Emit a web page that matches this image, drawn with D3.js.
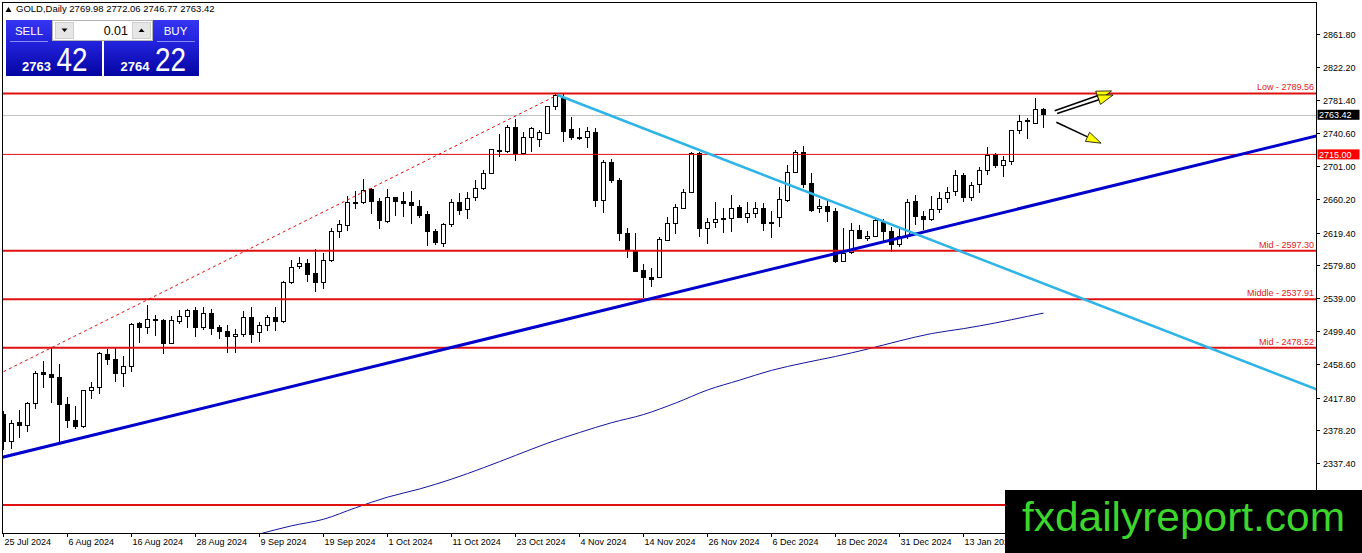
<!DOCTYPE html>
<html>
<head>
<meta charset="utf-8">
<script src="https://cdn.jsdelivr.net/npm/d3@7"></script>
<style>
html, body { margin: 0; padding: 0; background: #fff; }
svg { display: block; font-family: "Liberation Sans", Arial, sans-serif; }
</style>
</head>
<body>
<svg id="chart" width="1362" height="553"></svg>
<script>
// trading days shown on the chart
const dates = [
  "2024-07-25","2024-07-26","2024-07-29","2024-07-30","2024-07-31",
  "2024-08-01","2024-08-02","2024-08-05","2024-08-06","2024-08-07","2024-08-08","2024-08-09",
  "2024-08-12","2024-08-13","2024-08-14","2024-08-15","2024-08-16","2024-08-19","2024-08-20",
  "2024-08-21","2024-08-22","2024-08-23","2024-08-26","2024-08-27","2024-08-28","2024-08-29","2024-08-30",
  "2024-09-02","2024-09-03","2024-09-04","2024-09-05","2024-09-06","2024-09-09","2024-09-10",
  "2024-09-11","2024-09-12","2024-09-13","2024-09-16","2024-09-17","2024-09-18","2024-09-19",
  "2024-09-20","2024-09-23","2024-09-24","2024-09-25","2024-09-26","2024-09-27","2024-09-30",
  "2024-10-01","2024-10-02","2024-10-03","2024-10-04","2024-10-07","2024-10-08","2024-10-09",
  "2024-10-10","2024-10-11","2024-10-14","2024-10-15","2024-10-16","2024-10-17","2024-10-18",
  "2024-10-21","2024-10-22","2024-10-23","2024-10-24","2024-10-25","2024-10-28","2024-10-29",
  "2024-10-30","2024-10-31",
  "2024-11-01","2024-11-04","2024-11-05","2024-11-06","2024-11-07","2024-11-08","2024-11-11",
  "2024-11-12","2024-11-13","2024-11-14","2024-11-15","2024-11-18","2024-11-19","2024-11-20",
  "2024-11-21","2024-11-22","2024-11-25","2024-11-26","2024-11-27","2024-11-28","2024-11-29",
  "2024-12-02","2024-12-03","2024-12-04","2024-12-05","2024-12-06","2024-12-09","2024-12-10",
  "2024-12-11","2024-12-12","2024-12-13","2024-12-16","2024-12-17","2024-12-18","2024-12-19",
  "2024-12-20","2024-12-23","2024-12-24","2024-12-26","2024-12-27","2024-12-30","2024-12-31",
  "2025-01-02","2025-01-03","2025-01-06","2025-01-07","2025-01-08","2025-01-09","2025-01-10",
  "2025-01-13","2025-01-14","2025-01-15","2025-01-16","2025-01-17","2025-01-20","2025-01-21",
  "2025-01-22","2025-01-23","2025-01-24","2025-01-27"
];

const opens = [
  2397.3,2363.9,2387.5,2383.0,2410.7,2448.2,2446.1,2442.5,2409.5,2390.3,
  2382.2,2426.6,2429.8,2471.0,2464.5,2447.4,2455.5,2508.5,2503.6,2513.4,
  2512.1,2483.6,2510.5,2516.6,2524.4,2503.2,2520.7,2502.8,2498.7,2492.6,
  2495.0,2516.2,2497.5,2506.0,2515.9,2510.5,2558.2,2577.7,2581.8,2569.6,
  2558.6,2585.1,2621.3,2627.9,2656.0,2656.4,2671.5,2658.0,2632.8,2662.5,
  2658.0,2655.6,2651.9,2641.7,2621.3,2605.9,2629.5,2656.4,2647.8,2662.1,
  2672.7,2691.8,2718.3,2718.3,2747.6,2715.5,2735.8,2733.4,2740.7,2773.3,
  2783.5,2746.0,2735.8,2735.4,2741.5,2658.4,2705.3,2683.3,2618.5,2596.1,
  2572.5,2564.7,2564.3,2610.3,2630.7,2649.1,2668.2,2715.5,2624.6,2631.9,
  2636.8,2636.8,2650.3,2638.1,2642.9,2649.1,2632.3,2637.6,2659.2,2692.6,
  2717.1,2679.6,2649.1,2651.9,2645.0,2583.9,2594.9,2621.8,2612.4,2615.2,
  2631.5,2620.5,2605.0,2614.4,2657.2,2638.9,2635.6,2647.8,2661.3,2669.4,
  2689.8,2662.5,2677.6,2695.5,2715.1,2701.6,2706.5,2744.0,2755.0,2752.9,
  2769.98
];
const highs = [
  2401.7,2390.3,2402.6,2412.7,2450.2,2462.4,2478.7,2458.4,2418.0,2407.4,
  2427.0,2436.8,2473.4,2477.1,2477.9,2469.0,2508.5,2510.1,2530.5,2518.7,
  2513.4,2517.4,2524.8,2525.6,2528.4,2528.4,2525.6,2506.4,2506.4,2501.1,
  2524.0,2528.9,2510.5,2519.1,2528.1,2560.3,2585.9,2589.2,2587.1,2599.3,
  2594.0,2624.6,2634.8,2664.1,2670.2,2684.5,2673.5,2662.1,2672.3,2662.9,
  2669.4,2670.2,2659.2,2645.8,2623.8,2631.1,2660.1,2667.4,2668.6,2684.1,
  2695.9,2721.2,2739.5,2750.9,2757.8,2742.8,2748.5,2744.8,2774.1,2788.4,
  2788.4,2761.1,2747.6,2748.9,2747.6,2708.1,2708.9,2685.7,2624.6,2618.5,
  2580.6,2575.7,2614.4,2638.0,2653.9,2672.3,2718.3,2718.3,2637.6,2657.2,
  2649.1,2665.3,2653.1,2656.4,2656.4,2656.0,2645.8,2675.5,2702.0,2720.4,
  2725.2,2691.8,2660.1,2658.0,2649.9,2625.4,2631.5,2628.7,2621.3,2637.6,
  2636.0,2626.6,2624.6,2660.1,2665.3,2645.8,2664.1,2668.6,2675.5,2695.9,
  2692.6,2681.6,2700.0,2724.4,2716.3,2713.4,2744.8,2763.1,2759.1,2784.3,
  2772.06
];
const lows = [
  2353.7,2354.5,2368.7,2376.1,2403.4,2429.8,2410.7,2363.9,2381.0,2378.9,
  2380.1,2415.6,2422.1,2457.6,2437.2,2431.1,2449.4,2484.9,2495.4,2493.4,
  2470.6,2483.2,2507.7,2502.4,2492.2,2500.3,2493.8,2488.9,2472.6,2471.8,
  2492.2,2484.0,2485.3,2499.5,2499.5,2508.9,2556.2,2574.5,2559.4,2546.4,
  2550.0,2583.9,2613.2,2621.8,2648.2,2653.9,2641.7,2623.4,2631.5,2640.1,
  2638.9,2630.3,2636.8,2603.4,2604.2,2602.2,2626.6,2640.9,2636.0,2658.0,
  2671.1,2691.0,2712.2,2717.1,2706.9,2715.1,2718.0,2723.6,2739.9,2769.2,
  2730.5,2732.6,2732.6,2723.2,2651.1,2642.9,2679.6,2609.1,2588.8,2570.8,
  2539.0,2553.3,2563.5,2609.5,2617.7,2647.8,2667.4,2614.4,2605.0,2625.4,
  2619.3,2620.5,2637.6,2631.5,2636.8,2621.3,2612.4,2626.6,2656.4,2691.8,
  2674.3,2645.0,2642.9,2631.9,2582.6,2583.0,2592.8,2611.2,2609.5,2614.0,
  2609.5,2595.3,2601.4,2611.6,2628.7,2622.6,2633.6,2643.8,2655.2,2663.7,
  2656.4,2658.0,2668.2,2689.8,2697.9,2687.8,2702.0,2739.9,2733.8,2751.7,
  2746.77
];
const closes = [
  2363.9,2386.3,2383.0,2410.7,2447.4,2446.1,2442.5,2409.5,2389.5,2382.2,
  2426.6,2430.3,2471.8,2464.5,2447.4,2455.9,2507.3,2503.2,2513.4,2512.1,
  2483.6,2512.1,2516.6,2524.4,2503.2,2520.7,2502.0,2498.7,2492.2,2495.0,
  2515.8,2495.4,2506.0,2516.2,2510.5,2558.7,2576.9,2581.8,2568.4,2558.6,
  2585.9,2621.3,2628.7,2656.4,2656.8,2671.1,2657.2,2634.0,2662.5,2657.2,
  2654.8,2652.3,2640.9,2620.5,2607.5,2629.9,2656.4,2647.0,2661.3,2673.5,
  2691.8,2721.2,2719.9,2747.6,2715.5,2735.8,2746.8,2741.5,2773.3,2786.4,
  2742.8,2735.4,2734.6,2742.8,2658.4,2704.9,2682.5,2618.1,2598.1,2571.6,
  2564.3,2562.3,2611.2,2630.7,2650.3,2668.6,2715.5,2624.6,2631.5,2635.6,
  2635.6,2649.1,2638.1,2642.9,2649.1,2630.7,2631.1,2660.1,2693.1,2717.1,
  2678.8,2646.2,2651.1,2645.0,2583.9,2594.0,2621.8,2612.4,2614.8,2633.6,
  2620.5,2605.0,2614.4,2656.4,2638.9,2635.6,2647.8,2661.3,2668.6,2689.8,
  2662.9,2676.8,2695.5,2714.2,2701.6,2707.3,2744.0,2755.0,2756.2,2770.1,
  2763.42
];

// 200 day moving average, read every few bars
const maIdx = [32, 36, 40, 44, 48, 52, 56, 60, 64, 68, 72, 76, 80, 84, 88, 92, 96, 100, 104, 108, 112, 116, 120, 124, 128, 130];
const maVal = [2251, 2261, 2269, 2283, 2296, 2306, 2318, 2332, 2347, 2362, 2375, 2387, 2397, 2411, 2427, 2439, 2451, 2460, 2468, 2477, 2487, 2496, 2502, 2509, 2517, 2521];

// horizontal levels
const levelPrices = [2789.56, 2715.00, 2597.30, 2537.91, 2478.52, 2286.50];
const levelNames = ["Low - 2789.56", "", "Mid - 2597.30", "Middle - 2537.91", "Mid - 2478.52", ""];

const priceTicks = [2861.80, 2822.20, 2781.40, 2740.60, 2701.00, 2660.20, 2619.40, 2579.80, 2539.00, 2499.40, 2458.60, 2417.80, 2378.20, 2337.40];

// bars that carry a date label (the later ones sit under the watermark)
const labelIdx = [0, 8, 16, 24, 32, 40, 48, 56, 64, 72, 80, 88, 96, 104, 112, 120];

// trend lines as [bar index, price] anchors
const upTrend = [[0, 2345.1], [164.1, 2737.5]];
const downTrend = [[69.25, 2787.6], [164.1, 2427.9]];
const dottedTrend = [[0, 2449.4], [69.25, 2787.6]];

// arrows drawn on the chart: [from index, from price, to index, to price]
const arrows = [
  [131.4, 2768.3, 138.5, 2792.6],
  [131.7, 2765.1, 138.7, 2787.6],
  [131.6, 2754.2, 137.2, 2728.7]
];

const bid = 2763.42, ask = 2764.22;

const svg = d3.select("#chart");
const plot = { left: 2, top: 2, right: 1316, bottom: 533 };

const x = d3.scaleLinear().domain([0, 130]).range([3.5, 1043.5]);
const y = d3.scaleLinear().domain([2337.4, 2861.8]).range([463.3, 34.3]);

svg.append("rect").attr("width", 1362).attr("height", 553).attr("fill", "#fff");

svg.append("defs").append("clipPath").attr("id", "clip")
  .append("rect")
  .attr("x", plot.left).attr("y", plot.top)
  .attr("width", plot.right - plot.left).attr("height", plot.bottom - plot.top);

const g = svg.append("g").attr("clip-path", "url(#clip)");

// bid line
g.append("line")
  .attr("x1", plot.left).attr("x2", plot.right)
  .attr("y1", Math.round(y(bid)) + 0.5).attr("y2", Math.round(y(bid)) + 0.5)
  .attr("stroke", "#c0c0c0").attr("stroke-width", 1);

// candles
const candles = d3.range(dates.length).map(i => ({
  i, o: opens[i], h: highs[i], l: lows[i], c: closes[i]
}));

const cg = g.append("g").attr("shape-rendering", "crispEdges");
cg.selectAll("line.wick")
  .data(candles)
  .enter().append("line")
  .attr("class", "wick")
  .attr("x1", d => x(d.i)).attr("x2", d => x(d.i))
  .attr("y1", d => y(d.h)).attr("y2", d => y(d.l))
  .attr("stroke", "#000").attr("stroke-width", 1);

cg.selectAll("rect.body")
  .data(candles)
  .enter().append("rect")
  .attr("class", "body")
  .attr("x", d => x(d.i) - 2)
  .attr("y", d => y(Math.max(d.o, d.c)))
  .attr("width", 4)
  .attr("height", d => Math.max(1, Math.abs(y(d.o) - y(d.c))))
  .attr("fill", d => d.c >= d.o ? "#fff" : "#000")
  .attr("stroke", "#000").attr("stroke-width", 1);

// moving average
g.append("path")
  .datum(maIdx.map((d, k) => [d, maVal[k]]))
  .attr("fill", "none")
  .attr("stroke", "#14149c").attr("stroke-width", 1)
  .attr("d", d3.line().curve(d3.curveMonotoneX).x(d => x(d[0])).y(d => y(d[1])));

// horizontal levels
levelPrices.forEach((p, k) => {
  const yy = y(p);
  g.append("line")
    .attr("x1", plot.left).attr("x2", plot.right)
    .attr("y1", yy).attr("y2", yy)
    .attr("stroke", "#e01010").attr("stroke-width", k === 1 ? 1 : 2);
  if (levelNames[k]) {
    g.append("text")
      .attr("x", 1314).attr("y", yy - 3)
      .attr("text-anchor", "end")
      .attr("font-size", 9).attr("fill", "#e02020")
      .text(levelNames[k]);
  }
});

// trend lines, extended across the plot
function extend(a, i0, i1) {
  const slope = (a[1][1] - a[0][1]) / (a[1][0] - a[0][0]);
  return [[i0, a[0][1] + (i0 - a[0][0]) * slope], [i1, a[0][1] + (i1 - a[0][0]) * slope]];
}
const tl = d3.line().x(d => x(d[0])).y(d => y(d[1]));

g.append("path")
  .datum(extend(dottedTrend, -2, dottedTrend[1][0]))
  .attr("fill", "none").attr("stroke", "#e01010").attr("stroke-width", 1)
  .attr("stroke-dasharray", "3,3")
  .attr("d", tl);

g.append("path")
  .datum(extend(upTrend, -2, 170))
  .attr("fill", "none").attr("stroke", "#0000cc").attr("stroke-width", 3)
  .attr("d", tl);

g.append("path")
  .datum(extend(downTrend, downTrend[0][0], 170))
  .attr("fill", "none").attr("stroke", "#2eb4e6").attr("stroke-width", 2.5)
  .attr("d", tl);

// arrows
arrows.forEach(a => {
  const x0 = x(a[0]), y0 = y(a[1]), x1 = x(a[2]), y1 = y(a[3]);
  const ang = Math.atan2(y1 - y0, x1 - x0);
  const len = 15, hw = 5;
  const bx = x1 - len * Math.cos(ang), by = y1 - len * Math.sin(ang);
  g.append("line")
    .attr("x1", x0).attr("y1", y0).attr("x2", bx).attr("y2", by)
    .attr("stroke", "#000").attr("stroke-width", 1.6);
  const px = -Math.sin(ang) * hw, py = Math.cos(ang) * hw;
  g.append("path")
    .attr("d", `M${x1},${y1}L${bx + px},${by + py}L${bx - px},${by - py}Z`)
    .attr("fill", "#ffff00").attr("stroke", "#000").attr("stroke-width", 0.8);
});

// frame
svg.append("rect")
  .attr("x", plot.left + 0.5).attr("y", plot.top + 0.5)
  .attr("width", plot.right - plot.left).attr("height", plot.bottom - plot.top)
  .attr("fill", "none").attr("stroke", "#000").attr("stroke-width", 1);

// price axis
const axg = svg.append("g").attr("font-size", 9);
priceTicks.forEach(p => {
  const yy = Math.round(y(p)) + 0.5;
  axg.append("line")
    .attr("x1", plot.right).attr("x2", plot.right + 4)
    .attr("y1", yy).attr("y2", yy)
    .attr("stroke", "#000");
  axg.append("text")
    .attr("x", 1323).attr("y", yy + 3.5)
    .attr("fill", "#000")
    .text(p.toFixed(2));
});

// price tags on the axis
function tag(p, bg) {
  const yy = y(p);
  axg.append("rect")
    .attr("x", plot.right + 1.5).attr("y", yy - 5)
    .attr("width", 42).attr("height", 10)
    .attr("fill", bg);
  axg.append("text")
    .attr("x", 1319).attr("y", yy + 3.5)
    .attr("fill", "#fff")
    .text(p.toFixed(2));
}
tag(2715.00, "#ff0000");
tag(bid, "#000");

// time axis
const parse = d3.timeParse("%Y-%m-%d");
const fmt = d3.timeFormat("%-d %b %Y");
const tg = svg.append("g").attr("font-size", 9);
labelIdx.forEach(i => {
  const xx = Math.round(x(i)) - 0.5;
  tg.append("line")
    .attr("x1", xx).attr("x2", xx)
    .attr("y1", plot.bottom).attr("y2", plot.bottom + 4)
    .attr("stroke", "#000");
  tg.append("text")
    .attr("x", xx + 1).attr("y", 545)
    .attr("fill", "#000")
    .text(fmt(parse(dates[i])));
});

// header line
const last = dates.length - 1;
svg.append("path").attr("d", "M5.5,12L8.5,7L11.5,12Z").attr("fill", "#000");
svg.append("text")
  .attr("x", 16).attr("y", 12).attr("font-size", 9.5).attr("fill", "#000")
  .text(`GOLD,Daily  ${opens[last].toFixed(2)} ${highs[last].toFixed(2)} ${lows[last].toFixed(2)} ${closes[last].toFixed(2)}`);

// one click trading panel
const grad = svg.select("defs").append("linearGradient")
  .attr("id", "panel").attr("x1", 0).attr("x2", 0).attr("y1", 0).attr("y2", 1);
grad.append("stop").attr("offset", "0%").attr("stop-color", "#3535f2");
grad.append("stop").attr("offset", "45%").attr("stop-color", "#2020d8");
grad.append("stop").attr("offset", "100%").attr("stop-color", "#0404a2");

const pnl = svg.append("g");
[[6, 96, "SELL", 29, bid], [104, 95, "BUY", 175.5, ask]].forEach(b => {
  pnl.append("rect").attr("x", b[0]).attr("y", 20).attr("width", b[1]).attr("height", 56)
    .attr("fill", "url(#panel)");
  pnl.append("text").attr("x", b[3]).attr("y", 35).attr("text-anchor", "middle")
    .attr("font-size", 11.5).attr("fill", "#fff").text(b[2]);
  const lx = b[2] === "SELL" ? 10 : 157;
  pnl.append("line").attr("x1", lx).attr("x2", lx + 38).attr("y1", 41.5).attr("y2", 41.5)
    .attr("stroke", "#8c8cff").attr("stroke-width", 1);
  const s = b[4].toFixed(2);
  const bx = b[2] === "SELL" ? 22 : 120.5;
  pnl.append("text").attr("x", bx).attr("y", 70.5).attr("font-size", 13).attr("font-weight", "bold")
    .attr("fill", "#fff").text(s.slice(0, 4));
  pnl.append("text").attr("x", bx + 34.5).attr("y", 71).attr("font-size", 33)
    .attr("textLength", 31).attr("lengthAdjust", "spacingAndGlyphs")
    .attr("fill", "#fff").text(s.slice(5));
});

pnl.append("rect").attr("x", 52.5).attr("y", 20.5).attr("width", 100).attr("height", 20)
  .attr("fill", "#fff").attr("stroke", "#b4b4b4");
[[55, 64, "M61.5,28.5L67.5,28.5L64.5,32Z"], [132, 141.5, "M138.5,32L144.5,32L141.5,28.5Z"]].forEach(bt => {
  pnl.append("rect").attr("x", bt[0] + 0.5).attr("y", 22.5).attr("width", 18).attr("height", 16)
    .attr("fill", "#e6e6e6").attr("stroke", "#cfcfcf");
  pnl.append("path").attr("d", bt[2]).attr("fill", "#000");
});
pnl.append("text").attr("x", 128).attr("y", 35).attr("text-anchor", "end")
  .attr("font-size", 12.5).attr("fill", "#000").text("0.01");

// watermark
svg.append("rect").attr("x", 1005).attr("y", 490).attr("width", 357).attr("height", 63).attr("fill", "#000");
svg.append("text").attr("x", 1022).attr("y", 531)
  .attr("font-size", 41).attr("fill", "#3cd62c")
  .attr("textLength", 323).attr("lengthAdjust", "spacingAndGlyphs")
  .text("fxdailyreport.com");
</script>
</body>
</html>
